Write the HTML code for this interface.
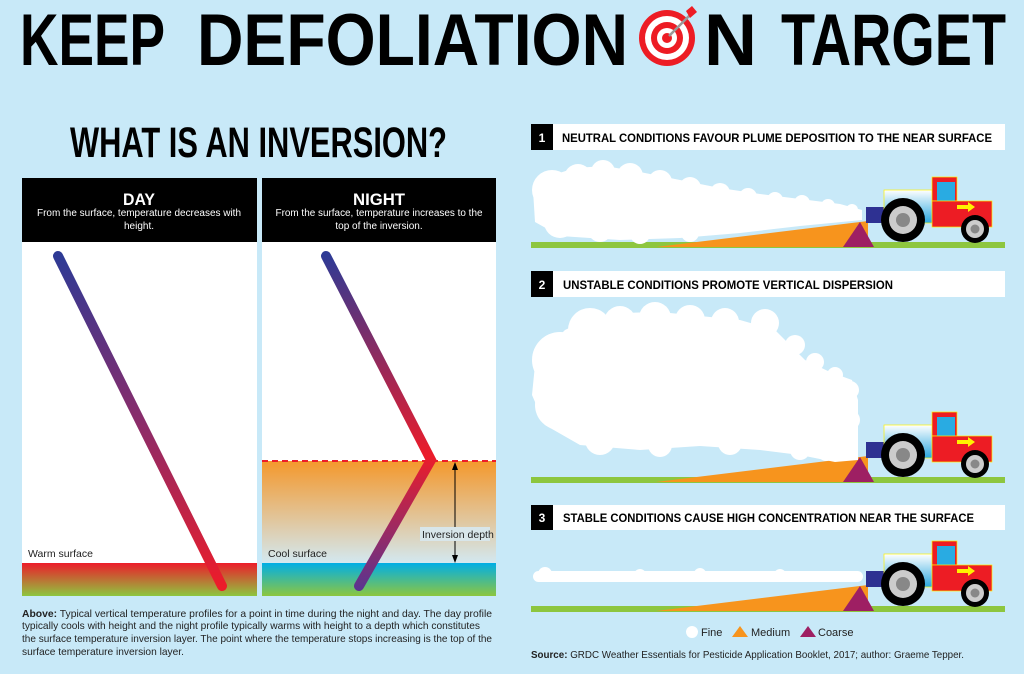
<!DOCTYPE html>
<html><head><meta charset="utf-8"><style>
html,body{margin:0;padding:0;background:#c8e9f8;}
body{width:1024px;height:674px;overflow:hidden;position:relative;font-family:"Liberation Sans",sans-serif;}
</style></head><body>
<svg width="1024" height="674" viewBox="0 0 1024 674" xmlns="http://www.w3.org/2000/svg" style="position:absolute;left:0;top:0">
<defs>
<linearGradient id="lineDay" x1="0" y1="0" x2="0" y2="1"><stop offset="0" stop-color="#2e3a95"/><stop offset="0.5" stop-color="#8a2c6a"/><stop offset="1" stop-color="#ec1c2a"/></linearGradient>
<linearGradient id="lineNight" gradientUnits="userSpaceOnUse" x1="0" y1="255" x2="0" y2="590"><stop offset="0" stop-color="#2e3a95"/><stop offset="0.6" stop-color="#ec1c2a"/><stop offset="1" stop-color="#5a3590"/></linearGradient>
<linearGradient id="gWarm" x1="0" y1="0" x2="0" y2="1"><stop offset="0" stop-color="#ec1c2a"/><stop offset="1" stop-color="#8dc63f"/></linearGradient>
<linearGradient id="gCool" x1="0" y1="0" x2="0" y2="1"><stop offset="0" stop-color="#00aee6"/><stop offset="1" stop-color="#8dc63f"/></linearGradient>
<linearGradient id="gInv" x1="0" y1="0" x2="0" y2="1"><stop offset="0" stop-color="#f4982c"/><stop offset="1" stop-color="#d3e8f0"/></linearGradient>
<linearGradient id="hood" x1="0" y1="0" x2="0" y2="1"><stop offset="0" stop-color="#ffffff"/><stop offset="1" stop-color="#2aa7e0"/></linearGradient>
<g id="tractor">
<polygon points="656,247 868,221 868,247" fill="#f7941d"/>
<polygon points="843,247 860,222 874,247" fill="#9e1f63"/>
<rect x="866" y="207" width="19" height="16" fill="#2e3192"/>
<rect x="884" y="190" width="50" height="33" fill="url(#hood)" stroke="#fff200" stroke-width="0.7"/>
<rect x="932" y="177" width="25" height="24" fill="#ed1c24" stroke="#fff200" stroke-width="0.7"/>
<rect x="937" y="182" width="18" height="19" fill="#29abe2"/>
<rect x="932" y="201" width="60" height="26" fill="#ed1c24" stroke="#fff200" stroke-width="0.7"/>
<polygon points="957,205 968,205 968,202 975,207 968,212 968,209 957,209" fill="#fff200"/>
<circle cx="903" cy="220" r="22" fill="#000"/><circle cx="903" cy="220" r="14" fill="#ccc"/><circle cx="903" cy="220" r="7" fill="#888"/>
<circle cx="975" cy="229" r="14" fill="#000"/><circle cx="975" cy="229" r="9" fill="#ccc"/><circle cx="975" cy="229" r="4.5" fill="#888"/>
</g>
</defs>

<!-- Title -->
<g font-family="Liberation Sans" font-weight="bold" font-size="73" fill="#000" lengthAdjust="spacingAndGlyphs">
<text x="20" y="65" textLength="145" lengthAdjust="spacingAndGlyphs">KEEP</text>
<text x="197" y="65" textLength="431" lengthAdjust="spacingAndGlyphs">DEFOLIATION</text>
<text x="704" y="65" textLength="53" lengthAdjust="spacingAndGlyphs">N</text>
<text x="781" y="65" textLength="225" lengthAdjust="spacingAndGlyphs">TARGET</text>
</g>
<circle cx="667" cy="38" r="28" fill="#ed1c24"/><circle cx="667" cy="38" r="22" fill="#fff"/><circle cx="667" cy="38" r="16" fill="#ed1c24"/><circle cx="667" cy="38" r="10" fill="#fff"/><circle cx="667" cy="38" r="5" fill="#ed1c24"/>
<line x1="669" y1="36" x2="692" y2="13" stroke="#999" stroke-width="2.5"/>
<polygon points="686,11 692,6 697,12 690,18" fill="#ed1c24"/>

<text x="70" y="157" font-family="Liberation Sans" font-weight="bold" font-size="43" textLength="377" lengthAdjust="spacingAndGlyphs">WHAT IS AN INVERSION?</text>

<!-- Day panel -->
<rect x="22" y="178" width="235" height="64" fill="#000"/>
<rect x="22" y="242" width="235" height="321" fill="#fff"/>
<rect x="22" y="563" width="235" height="33" fill="url(#gWarm)"/>
<text x="139" y="205" fill="#fff" font-weight="bold" font-size="17" text-anchor="middle" textLength="32" lengthAdjust="spacingAndGlyphs">DAY</text>
<text x="139" y="216" fill="#fff" font-size="10" text-anchor="middle" textLength="204" lengthAdjust="spacingAndGlyphs">From the surface, temperature decreases with</text>
<text x="139" y="229" fill="#fff" font-size="10" text-anchor="middle">height.</text>
<line x1="58" y1="256" x2="222" y2="586" stroke="url(#lineDay)" stroke-width="10" stroke-linecap="round"/>
<text x="28" y="557" font-size="10.5" fill="#222">Warm surface</text>

<!-- Night panel -->
<rect x="262" y="178" width="234" height="64" fill="#000"/>
<rect x="262" y="242" width="234" height="219" fill="#fff"/>
<rect x="262" y="461" width="234" height="102" fill="url(#gInv)"/>
<rect x="262" y="563" width="234" height="33" fill="url(#gCool)"/>
<text x="379" y="205" fill="#fff" font-weight="bold" font-size="17" text-anchor="middle" textLength="52" lengthAdjust="spacingAndGlyphs">NIGHT</text>
<text x="379" y="216" fill="#fff" font-size="10" text-anchor="middle" textLength="207" lengthAdjust="spacingAndGlyphs">From the surface, temperature increases to the</text>
<text x="379" y="229" fill="#fff" font-size="10" text-anchor="middle">top of the inversion.</text>
<line x1="262" y1="461" x2="496" y2="461" stroke="#ec1c2a" stroke-width="2" stroke-dasharray="6,4"/>
<polyline points="326,256 431,460 359,586" fill="none" stroke="url(#lineNight)" stroke-width="10" stroke-linecap="round" stroke-linejoin="miter"/>
<line x1="455" y1="468" x2="455" y2="555" stroke="#000" stroke-width="1"/>
<polygon points="455,462 452,470 458,470" fill="#000"/><polygon points="455,563 452,555 458,555" fill="#000"/>
<rect x="420" y="527" width="70" height="14" fill="#d8e6ea"/>
<text x="422" y="538" font-size="10.5" fill="#222">Inversion depth</text>
<text x="268" y="557" font-size="10.5" fill="#222">Cool surface</text>

<!-- Caption -->
<g font-size="10.2" fill="#222">
<text x="22" y="617" textLength="470" lengthAdjust="spacingAndGlyphs"><tspan font-weight="bold">Above:</tspan> Typical vertical temperature profiles for a point in time during the night and day. The day profile</text>
<text x="22" y="629" textLength="458" lengthAdjust="spacingAndGlyphs">typically cools with height and the night profile typically warms with height to a depth which constitutes</text>
<text x="22" y="642" textLength="470" lengthAdjust="spacingAndGlyphs">the surface temperature inversion layer. The point where the temperature stops increasing is the top of the</text>
<text x="22" y="655">surface temperature inversion layer.</text>
</g>

<!-- Section headers -->
<g font-weight="bold">
<rect x="531" y="124" width="22" height="26" fill="#000"/><rect x="553" y="124" width="452" height="26" fill="#fff"/>
<text x="542" y="142" fill="#fff" font-size="12" text-anchor="middle">1</text>
<text x="562" y="142" font-size="12" textLength="430" lengthAdjust="spacingAndGlyphs">NEUTRAL CONDITIONS FAVOUR PLUME DEPOSITION TO THE NEAR SURFACE</text>
<rect x="531" y="271" width="22" height="26" fill="#000"/><rect x="553" y="271" width="452" height="26" fill="#fff"/>
<text x="542" y="289" fill="#fff" font-size="12" text-anchor="middle">2</text>
<text x="563" y="289" font-size="12" textLength="330" lengthAdjust="spacingAndGlyphs">UNSTABLE CONDITIONS PROMOTE VERTICAL DISPERSION</text>
<rect x="531" y="505" width="22" height="25" fill="#000"/><rect x="553" y="505" width="452" height="25" fill="#fff"/>
<text x="542" y="522" fill="#fff" font-size="12" text-anchor="middle">3</text>
<text x="563" y="522" font-size="12" textLength="411" lengthAdjust="spacingAndGlyphs">STABLE CONDITIONS CAUSE HIGH CONCENTRATION NEAR THE SURFACE</text>
</g>

<!-- Grounds -->
<rect x="531" y="242" width="474" height="6" fill="#8dc63f"/>
<rect x="531" y="477" width="474" height="6" fill="#8dc63f"/>
<rect x="531" y="606" width="474" height="6" fill="#8dc63f"/>

<use href="#tractor"/>
<use href="#tractor" transform="translate(0,235)"/>
<use href="#tractor" transform="translate(0,364)"/>

<!-- Cloud 1 -->
<g fill="#fff">
<polygon points="533,190 550,176 575,168 605,166 640,172 680,180 720,188 760,194 800,199 840,204 862,210 862,220 800,226 740,233 680,238 620,240 560,236 535,222"/>
<circle cx="552" cy="190" r="20"/><circle cx="578" cy="178" r="14"/><circle cx="603" cy="172" r="12"/><circle cx="630" cy="176" r="13"/>
<circle cx="660" cy="182" r="12"/><circle cx="690" cy="188" r="11"/><circle cx="720" cy="193" r="10"/><circle cx="748" cy="197" r="9"/>
<circle cx="775" cy="200" r="8"/><circle cx="802" cy="203" r="8"/><circle cx="828" cy="206" r="7"/><circle cx="852" cy="210" r="6"/>
<circle cx="560" cy="222" r="16"/><circle cx="600" cy="230" r="12"/><circle cx="640" cy="234" r="10"/><circle cx="690" cy="233" r="9"/>
</g>
<!-- Cloud 2 -->
<g fill="#fff">
<polygon points="545,350 565,330 590,318 620,313 660,312 700,316 740,320 775,330 790,345 805,360 830,372 852,380 858,400 858,460 835,462 800,455 760,450 700,446 640,450 580,445 545,425 532,395 535,365"/>
<circle cx="560" cy="360" r="28"/><circle cx="590" cy="330" r="22"/><circle cx="620" cy="322" r="16"/><circle cx="655" cy="318" r="16"/>
<circle cx="690" cy="320" r="15"/><circle cx="725" cy="322" r="14"/><circle cx="765" cy="323" r="14"/><circle cx="795" cy="345" r="10"/>
<circle cx="815" cy="362" r="9"/><circle cx="835" cy="375" r="8"/><circle cx="850" cy="390" r="9"/><circle cx="850" cy="420" r="10"/>
<circle cx="848" cy="445" r="10"/><circle cx="560" cy="405" r="25"/><circle cx="600" cy="440" r="15"/><circle cx="660" cy="445" r="12"/>
<circle cx="730" cy="443" r="12"/><circle cx="800" cy="450" r="10"/><circle cx="826" cy="453" r="8"/><circle cx="797" cy="343" r="5"/>
</g>
<!-- Cloud 3 -->
<g fill="#fff">
<rect x="533" y="571" width="330" height="11" rx="5.5"/>
<circle cx="545" cy="574" r="7"/><circle cx="640" cy="575" r="6"/><circle cx="700" cy="574" r="6"/><circle cx="780" cy="575" r="6"/>
</g>

<!-- Legend -->
<circle cx="692" cy="632" r="6" fill="#fff"/>
<text x="701" y="636" font-size="11" fill="#222">Fine</text>
<polygon points="732,637 740,626 748,637" fill="#f7941d"/>
<text x="751" y="636" font-size="11" fill="#222">Medium</text>
<polygon points="800,637 808,626 816,637" fill="#9e1f63"/>
<text x="818" y="636" font-size="11" fill="#222">Coarse</text>
<text x="531" y="658" font-size="10.2" fill="#222" textLength="433" lengthAdjust="spacingAndGlyphs"><tspan font-weight="bold">Source:</tspan> GRDC Weather Essentials for Pesticide Application Booklet, 2017; author: Graeme Tepper.</text>
</svg>
</body></html>
